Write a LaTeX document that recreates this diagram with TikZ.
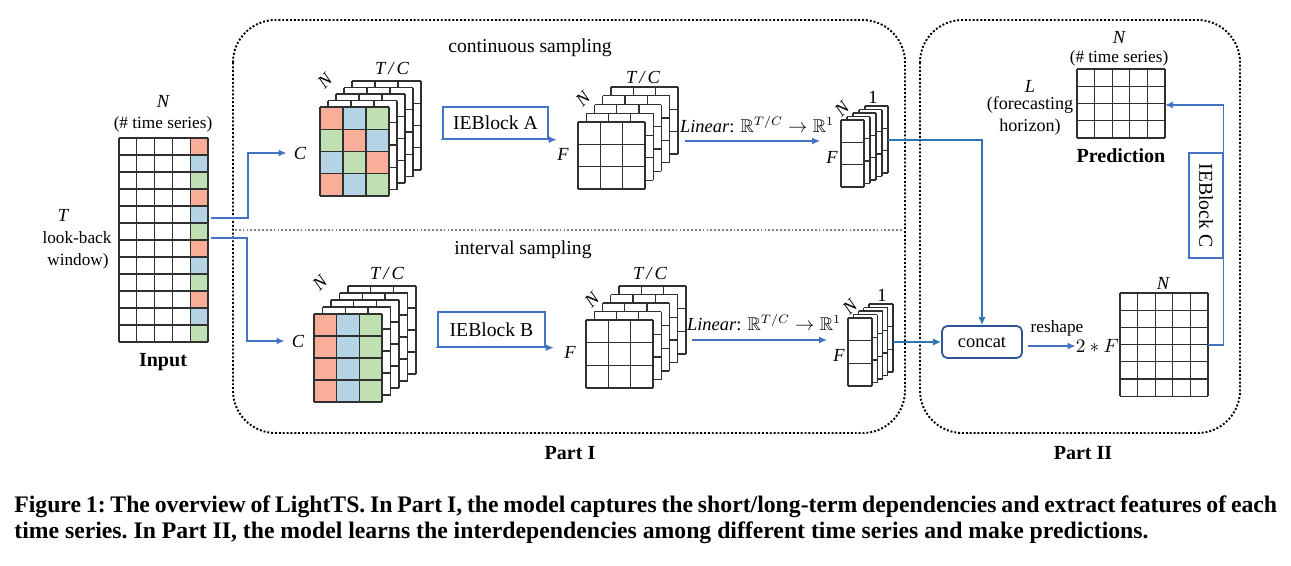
\documentclass[tikz,border=0pt]{standalone}
\usepackage{fontspec}
\usepackage{amssymb}
\setmainfont{Liberation Serif}
\usetikzlibrary{arrows.meta}
\definecolor{cR}{HTML}{F8AE98}
\definecolor{cB}{HTML}{B4D4E6}
\definecolor{cG}{HTML}{C0E0B4}
\definecolor{ab}{HTML}{4472C4}
\definecolor{abb}{HTML}{2E75B6}
\definecolor{ccol}{HTML}{2F5597}
\definecolor{glc}{HTML}{303030}
\tikzset{
  gridln/.style={draw=glc, line width=0.7pt},
  arr/.style={draw=ab, line width=0.75pt, -{Latex[length=4.5pt,width=4pt]}},
  arrb/.style={draw=abb, line width=0.8pt, -{Latex[length=4.5pt,width=4pt]}},
  ln/.style={draw=ab, line width=0.75pt},
  dotbox/.style={draw=black, line width=1.1pt, dash pattern=on 1.1pt off 1.1pt, rounded corners=0.85cm},
  sep/.style={draw=gray, line width=1pt, dash pattern=on 1pt off 1.2pt},
  txt/.style={inner sep=0pt, font=\fontsize{11.2}{13}\selectfont},
  stxt/.style={inner sep=0pt, font=\fontsize{9.8}{12}\selectfont},
  itxt/.style={inner sep=0pt, font=\fontsize{10.5}{12}\selectfont\itshape},
  btxt/.style={inner sep=0pt, font=\fontsize{11.4}{13}\selectfont\bfseries},
  blockbox/.style={draw=ab, line width=0.75pt, inner sep=0pt, font=\fontsize{11.2}{13}\selectfont},
  captxt/.style={inner sep=0pt, font=\fontsize{13.5}{15}\selectfont\bfseries\frenchspacing},
}
\newcommand\glines[6]{%
  \foreach \i in {0,...,#3} \draw[gridln] ({#1+\i*#5},{#2}) -- ++(0,{#4*#6});
  \foreach \j in {0,...,#4} \draw[gridln] ({#1},{#2+\j*#6}) -- ++({#3*#5},0);
}
\newcommand\lgrid[6]{%
  \fill[white] ({#1},{#2}) rectangle ++({#3*#5},{#4*#6});
  \glines{#1}{#2}{#3}{#4}{#5}{#6}%
}
\newcommand\cellf[7]{\fill[#7] ({#1+#3*#5},{#2+#4*#6}) rectangle ++(#5,#6);}
\newcommand\stk[9]{%
  \foreach \k in {#9,...,1} {\lgrid{#1+\k*#7}{#2-\k*#8}{#3}{#4}{#5}{#6}}
}
\begin{document}
\begin{tikzpicture}[x=0.02cm, y=-0.02cm]
\useasboundingbox (0,0) rectangle (1291,565);

% ---------- boxes
\draw[dotbox] (233,20) rectangle (905,433);
\draw[dotbox] (920,20) rectangle (1240,433);
\draw[sep] (235,230) -- (903,230);
\node[btxt] (p1) at (570,453) {Part I};
\node[btxt] (p2) at (1083,453) {Part II};
\node[txt] (conts) at (530,48) {continuous sampling};
\node[txt] (ints) at (523,250) {interval sampling};

% ---------- input
\lgrid{119}{138}{5}{12}{17.8}{17}
\foreach \r/\c in {0/cR,1/cB,2/cG,3/cR,4/cB,5/cG,6/cR,7/cB,8/cG,9/cR,10/cB,11/cG}
  {\cellf{119}{138}{4}{\r}{17.8}{17}{\c}}
\glines{119}{138}{5}{12}{17.8}{17}
\node[itxt] (inN) at (163,101) {N};
\node[stxt] (inTS) at (163,124) {(\# time series)};
\node[itxt] (inT) at (63,215) {T};
\node[stxt] (inLB) at (77,238) {look-back};
\node[stxt] (inW) at (78,261) {window)};
\node[btxt] (inL) at (163,362) {Input};

% ---------- upper colour stack
\stk{320}{107}{3}{4}{23}{22.25}{8}{6.5}{4}
\lgrid{320}{107}{3}{4}{23}{22.25}
\foreach \cx/\cy/\c in {0/0/cR,1/0/cB,2/0/cG,0/1/cG,1/1/cR,2/1/cB,0/2/cB,1/2/cG,2/2/cR,0/3/cR,1/3/cB,2/3/cG}
  {\cellf{320}{107}{\cx}{\cy}{23}{22.25}{\c}}
\glines{320}{107}{3}{4}{23}{22.25}
\node[itxt, rotate=45] (sN1) at (325,81) {N};
\node[itxt] (sTC1) at (392,68) {T\,/\,C};
\node[itxt] (C1) at (300,153) {C};

% ---------- lower colour stack
\stk{314}{314}{3}{4}{22.7}{22}{8.5}{7}{4}
\lgrid{314}{314}{3}{4}{22.7}{22}
\foreach \cx/\c in {0/cR,1/cB,2/cG}
  \foreach \cy in {0,...,3} {\cellf{314}{314}{\cx}{\cy}{22.7}{22}{\c}}
\glines{314}{314}{3}{4}{22.7}{22}
\node[itxt, rotate=45] (sN2) at (320,283) {N};
\node[itxt] (sTC2) at (387,273) {T\,/\,C};
\node[itxt] (C2) at (298,341) {C};

% ---------- input arrows
\coordinate (i1) at (211,218);
\coordinate (i2) at (211,238);
\draw[arr] (i1) -- (248,218) |- ([xshift=-4pt]C1.west);
\draw[arr] (i2) -- (247,238) |- ([xshift=-4pt]C2.west);

% ---------- IEBlocks A/B
\node[blockbox, minimum width=2.1cm, minimum height=0.64cm] (ieA) at (495.5,123) {IEBlock A};
\draw[arr] ([xshift=-1pt]ieA.south west) -- ([xshift=4.5pt]ieA.south east);
\node[blockbox, minimum width=2.14cm, minimum height=0.7cm] (ieB) at (491.5,329.5) {IEBlock B};
\draw[arr] ([xshift=-1pt]ieB.south west) -- ([xshift=4.5pt]ieB.south east);

% ---------- F stacks
\stk{578}{122}{3}{3}{22.3}{22.3}{8.25}{8.75}{4}
\lgrid{578}{122}{3}{3}{22.3}{22.3}
\node[itxt, rotate=45] (fN1) at (583,99) {N};
\node[itxt] (fTC1) at (643,77) {T\,/\,C};
\node[itxt] (fF1) at (563,154) {F};

\stk{586}{320}{3}{3}{22.3}{22.7}{8.25}{8.5}{4}
\lgrid{586}{320}{3}{3}{22.3}{22.7}
\node[itxt, rotate=45] (fN2) at (592,300) {N};
\node[itxt] (fTC2) at (650,273) {T\,/\,C};
\node[itxt] (fF2) at (570,352) {F};

% ---------- linear arrows
\coordinate (la1) at (685,141);
\coordinate (lb1) at (820,141);
\draw[arr] (la1) -- (lb1);
\node[stxt, font=\fontsize{10.5}{12}\selectfont] (lin1) at (757,125) {\textit{Linear}: $\mathbb{R}^{T/C}\rightarrow\mathbb{R}^{1}$};
\coordinate (la2) at (692,340);
\coordinate (lb2) at (827,340);
\draw[arr] (la2) -- (lb2);
\node[stxt, font=\fontsize{10.5}{12}\selectfont] (lin2) at (764,323) {\textit{Linear}: $\mathbb{R}^{T/C}\rightarrow\mathbb{R}^{1}$};

% ---------- 1 stacks
\stk{841}{120}{1}{3}{23}{22.3}{6}{3.5}{4}
\lgrid{841}{120}{1}{3}{23}{22.3}
\node[itxt, rotate=45] (oN1) at (842,109) {N};
\node[stxt, font=\fontsize{10.5}{12}\selectfont] (o1) at (873,97) {1};
\node[itxt] (oF1) at (832,157) {F};

\stk{848}{318}{1}{3}{24}{22.7}{5.25}{3.5}{4}
\lgrid{848}{318}{1}{3}{24}{22.7}
\node[itxt, rotate=45] (oN2) at (850,307) {N};
\node[stxt, font=\fontsize{10.5}{12}\selectfont] (o2) at (882,295) {1};
\node[itxt] (oF2) at (839,355) {F};

% ---------- concat
\node[draw=ccol, line width=1pt, rounded corners=3pt, minimum width=1.6cm, minimum height=0.64cm, inner sep=0pt, font=\fontsize{10.5}{12}\selectfont] (cc) at (982,342) {concat};
\coordinate (s1o) at (888,140);
\coordinate (s2o) at (893,342);
\draw[arrb] (s1o) -| (cc.north);
\draw[arrb] (s2o) -- (cc.west);
\node[itxt, font=\fontsize{10.5}{12}\selectfont, anchor=east] (twoF) at (1119,346) {$2\ast F$};
\coordinate (rsa) at (1028,346);
\draw[arr] (rsa) -- (twoF.west |- rsa);
\node[stxt] (resh) at (1057,328) {reshape};

% ---------- part II grids
\lgrid{1120}{293}{5}{6}{17.6}{17.2}
\node[itxt] (bN) at (1163,283) {N};

\lgrid{1077}{69}{5}{4}{17.6}{17.25}
\node[itxt] (pN) at (1119,37) {N};
\node[stxt] (pTS) at (1119,58) {(\# time series)};
\node[itxt] (pL) at (1030,86) {L};
\node[stxt, font=\fontsize{10.3}{12}\selectfont] (pFH) at (1030,105) {(forecasting};
\node[stxt, font=\fontsize{10.3}{12}\selectfont] (pH) at (1030,127) {horizon)};
\node[btxt] (pLbl) at (1121,156) {Prediction};

\node[blockbox, minimum width=0.68cm, minimum height=2.1cm] (ieC) at (1206,205.5) {};
\node[txt, rotate=-90] (ieCt) at (ieC.center) {IEBlock C};
\coordinate (rs) at (1208,345);
\coordinate (pr) at (1165,105);
\draw[arr] (rs) -- (ieC.east |- rs) |- (pr);

% ---------- caption
\node[captxt, anchor=base west] (cap1) at (14,512) {\makebox[25.26cm][s]{Figure 1: The overview of LightTS. In Part I, the model captures the short/long-term dependencies and extract features of each}};
\node[captxt, anchor=base west] (cap2) at (14,538) {time series. In Part II, the model learns the interdependencies among different time series and make predictions.};
\end{tikzpicture}
\end{document}
